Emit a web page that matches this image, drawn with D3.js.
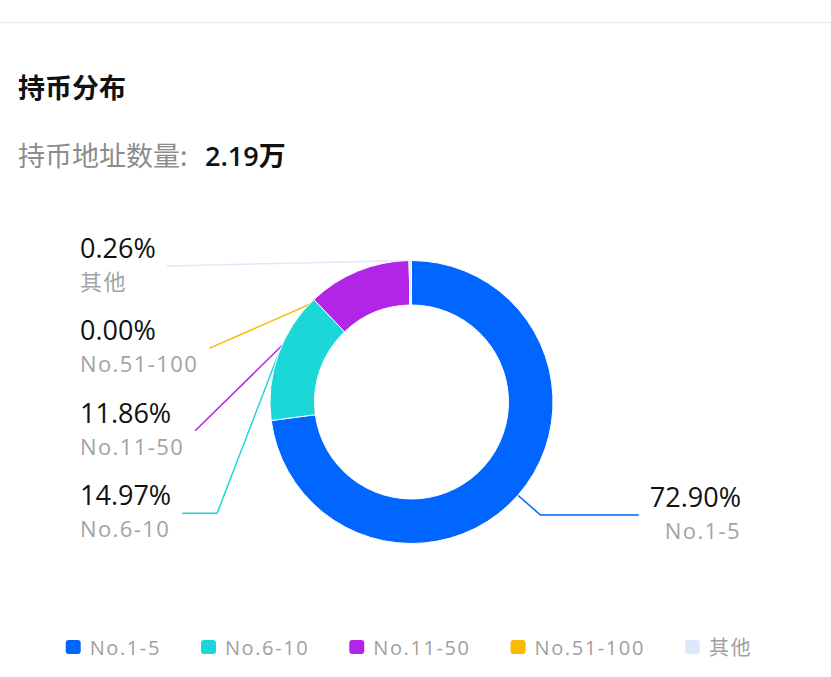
<!DOCTYPE html>
<html>
<head>
<meta charset="utf-8">
<script src="https://cdn.jsdelivr.net/npm/d3@7/dist/d3.min.js"></script>
<style>
  html, body { margin: 0; padding: 0; background: #fff; }
  svg { display: block; }
  text { font-family: "Open Sans", "Noto Sans CJK SC", sans-serif; }
</style>
</head>
<body>
<svg id="chart" width="831" height="677"></svg>
<script>
// ---------- data ----------
const titleText = "持币分布";
const subtitleLabel = "持币地址数量:";
const subtitleValue = "2.19万";
const categories = ["No.1-5", "No.6-10", "No.11-50", "No.51-100", "其他"];
const shares = [72.90, 14.97, 11.86, 0.00, 0.26];
const palette = ["#0066ff", "#1bd7d8", "#b224e6", "#f7bb00", "#dce9fb"];

// ---------- layout ----------
const W = 831, H = 677;
const cx = 411.5, cy = 402;
const rOuter = 141.5, rInner = 97;
const elbowLen = 30;
const leftEdge = 80, rightEdge = 741;
const leftTopY = 266, leftStep = 82.4;
const lineGap = 11;
// horizontal tail length before the label for left-side lines (0 = straight line)
const leftTail = { "No.6-10": 35 };

const svg = d3.select("#chart");

// top separator
svg.append("line")
  .attr("x1", 0).attr("x2", W).attr("y1", 22.5).attr("y2", 22.5)
  .attr("stroke", "#eeeeee").attr("stroke-width", 1.5);

// title
svg.append("text")
  .attr("x", 18).attr("y", 98)
  .attr("font-size", 27).attr("font-weight", 700)
  .attr("fill", "#111")
  .style("font-family", "'Noto Sans CJK SC', sans-serif")
  .text(titleText);

const sub = svg.append("text").attr("x", 18).attr("y", 166).attr("font-size", 27);
sub.append("tspan")
  .attr("fill", "#8c8c8c")
  .style("font-family", "'Noto Sans CJK SC', sans-serif")
  .text(subtitleLabel);
sub.append("tspan")
  .attr("x", 205)
  .attr("fill", "#111").attr("font-weight", 600)
  .text(subtitleValue);

// pie
const data = categories.map((c, i) => ({ name: c, value: shares[i], color: palette[i] }));
const pie = d3.pie().sort(null).value(d => d.value).startAngle(0).endAngle(2 * Math.PI);
const arcs = pie(data);
const arcGen = d3.arc().innerRadius(rInner).outerRadius(rOuter);

const gLines = svg.append("g");
const gArcs = svg.append("g").attr("transform", `translate(${cx},${cy})`);
const gLabels = svg.append("g");

gArcs.selectAll("path")
  .data(arcs)
  .join("path")
  .attr("d", arcGen)
  .attr("fill", d => d.data.color)
  .attr("stroke", "#fff")
  .attr("stroke-width", 1);

// labels
const polar = (a, r) => [cx + r * Math.sin(a), cy - r * Math.cos(a)];
const leftItems = arcs.filter(d => (d.startAngle + d.endAngle) / 2 > Math.PI).reverse();
const rightItems = arcs.filter(d => (d.startAngle + d.endAngle) / 2 <= Math.PI);

function drawLabel(d, side, labelY) {
  const mid = (d.startAngle + d.endAngle) / 2;
  const g = gLabels.append("g");
  const anchor = side === "left" ? "start" : "end";
  const x = side === "left" ? leftEdge : rightEdge;
  const t1 = g.append("text")
    .attr("x", x).attr("y", labelY - 8)
    .attr("text-anchor", anchor)
    .attr("font-size", 27).attr("fill", "#111")
    .text(d.data.value.toFixed(2) + "%");
  const t2 = g.append("text")
    .attr("x", x).attr("y", labelY + 24)
    .attr("text-anchor", anchor)
    .attr("font-size", 22).attr("fill", "#a3a3a3")
    .style("letter-spacing", "1.4px")
    .text(d.data.name);
  const w = Math.max(t1.node().getBBox().width, t2.node().getBBox().width);
  const start = polar(mid, rOuter);
  let pts;
  if (side === "left") {
    const endX = leftEdge + w + lineGap;
    const tail = leftTail[d.data.name] || 0;
    pts = [start, [endX + tail, labelY], [endX, labelY]];
  } else {
    const endX = rightEdge - w - lineGap;
    const elbow = polar(mid, rOuter + elbowLen);
    pts = [start, [elbow[0], labelY], [endX, labelY]];
  }
  gLines.append("path")
    .attr("d", d3.line()(pts))
    .attr("fill", "none")
    .attr("stroke", d.data.color)
    .attr("stroke-width", 1.5);
}

leftItems.forEach((d, i) => drawLabel(d, "left", leftTopY + i * leftStep));
rightItems.forEach(d => {
  const mid = (d.startAngle + d.endAngle) / 2;
  const natY = polar(mid, rOuter + elbowLen)[1];
  drawLabel(d, "right", natY);
});

// legend
const legend = svg.append("g");
let lx = 65.7;
data.forEach(d => {
  legend.append("rect")
    .attr("x", lx).attr("y", 640)
    .attr("width", 15).attr("height", 14)
    .attr("rx", 3).attr("ry", 3)
    .attr("fill", d.color);
  const t = legend.append("text")
    .attr("x", lx + 24).attr("y", 655)
    .attr("font-size", 20).attr("fill", "#a0a0a0")
    .style("letter-spacing", "1.6px")
    .text(d.name);
  lx = lx + 24 + t.node().getBBox().width + 40;
});
</script>
</body>
</html>
